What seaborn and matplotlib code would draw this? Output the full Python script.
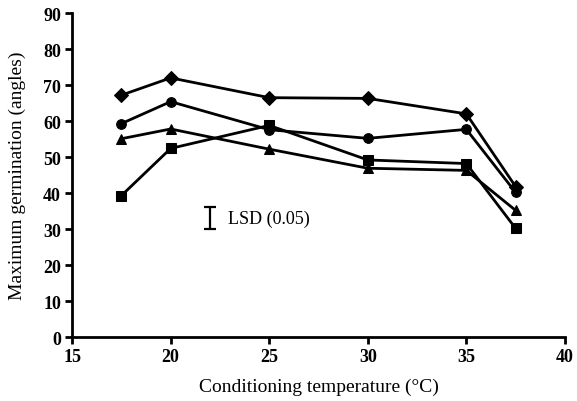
import matplotlib
matplotlib.use("Agg")
import matplotlib.pyplot as plt
import seaborn as sns
import pandas as pd

temps = [17.5, 20, 25, 30, 35, 37.5]
diamond = [67.2, 72.0, 66.5, 66.3, 62.0, 41.8]
circle = [59.3, 65.4, 57.6, 55.2, 57.7, 40.2]
triangle = [55.1, 57.8, 52.2, 46.9, 46.3, 35.2]
square = [39.3, 52.4, 58.8, 49.2, 48.2, 30.2]
series_names = ["A", "B", "C", "D"]
series_markers = ["D", "o", "^", "s"]
lsd_x = 22.0
lsd_center = 33.0
lsd_half = 3.0
x_ticks = [15, 20, 25, 30, 35, 40]
y_ticks = [0, 10, 20, 30, 40, 50, 60, 70, 80, 90]

rows = []
for name, vals in zip(series_names, [diamond, circle, triangle, square]):
    for t, v in zip(temps, vals):
        rows.append({"temp": t, "val": v, "series": name})
df = pd.DataFrame(rows)

sns.set_style("ticks")
plt.rcParams['font.family'] = ['Liberation Serif', 'DejaVu Serif']
plt.rcParams['text.color'] = 'black'
plt.rcParams['axes.labelcolor'] = 'black'
plt.rcParams['xtick.color'] = 'black'
plt.rcParams['ytick.color'] = 'black'
plt.rcParams['axes.edgecolor'] = 'black'

fig = plt.figure(figsize=(5.77, 4.02), dpi=100)
ax = fig.add_axes([0.125, 0.159, 0.854, 0.806])

sns.lineplot(data=df, x="temp", y="val", hue="series", style="series",
             markers=dict(zip(series_names, series_markers)), dashes=False,
             palette=["black"] * 4, linewidth=2, markersize=7,
             markeredgecolor="black", legend=False, ax=ax)

ax.errorbar([lsd_x], [lsd_center], yerr=[lsd_half], fmt="none", ecolor="black",
            elinewidth=1.6, capsize=4, capthick=1.6)
ax.text(lsd_x + 0.9, lsd_center, "LSD (0.05)", va="center", ha="left", fontsize=13)

ax.set_xlim(15, 40)
ax.set_ylim(0, 90)
ax.set_xticks(x_ticks)
ax.set_yticks(y_ticks)
ax.set_xticklabels([str(t) for t in x_ticks], fontweight="bold", fontsize=13)
ax.set_yticklabels([str(t) for t in y_ticks], fontweight="bold", fontsize=13)
ax.set_xlabel("Conditioning temperature (\u00b0C)", fontsize=14, labelpad=9)
ax.set_ylabel("Maximum germination (angles)", fontsize=14, labelpad=12)
sns.despine(ax=ax)
for s in ["left", "bottom"]:
    ax.spines[s].set_linewidth(2)
    ax.spines[s].set_color("black")
ax.tick_params(width=2, length=5, pad=3)

fig.savefig("out.png", dpi=100)
